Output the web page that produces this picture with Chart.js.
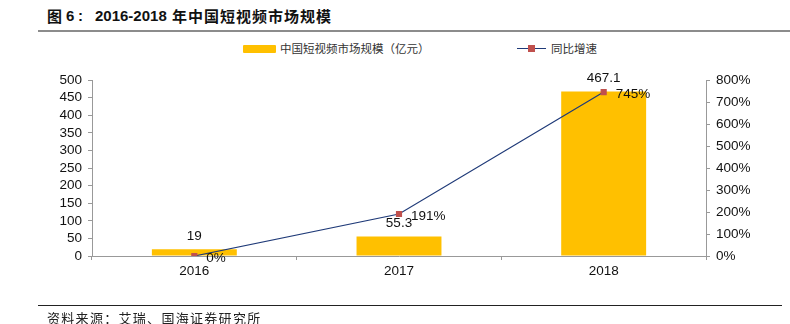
<!DOCTYPE html>
<html>
<head>
<meta charset="utf-8">
<script src="https://cdn.jsdelivr.net/npm/chart.js@4.4.0/dist/chart.umd.min.js"></script>
<style>
  body { margin: 0; background: #fff; }
  #wrap { position: relative; width: 790px; height: 324px; overflow: hidden; }
  #chart { position: absolute; left: 0; top: 0; }
  .title { position: absolute; top: 8px; font: bold 15px "Liberation Sans", Arial, sans-serif; line-height: 16px; color: #111; white-space: nowrap; }
  .title.cn { font-family: "Noto Sans CJK SC", sans-serif; letter-spacing: 1px; }
  .title-line { position: absolute; left: 38px; top: 30px; width: 752px; height: 2px; background: #8c8c8c; }
  .foot-line { position: absolute; left: 38px; top: 305px; width: 744px; height: 1px; background: #222; }
  .foot { position: absolute; left: 47px; top: 311px; font: 13px "Noto Sans CJK SC", sans-serif; line-height: 14px; letter-spacing: 1.3px; color: #222; white-space: nowrap; }
  .leg-text { position: absolute; top: 42px; font: 11.5px "Noto Sans CJK SC", sans-serif; line-height: 13px; color: #333; white-space: nowrap; }
  .leg-bar { position: absolute; left: 243px; top: 45px; width: 33px; height: 8px; background: #FFC000; border-radius: 1px; }
  .leg-line { position: absolute; left: 517px; top: 48px; width: 29px; height: 1px; background: #1F3A78; }
  .leg-mark { position: absolute; left: 528px; top: 45px; width: 7px; height: 7px; background: #C0504D; }
</style>
</head>
<body>
<div id="wrap">
  <div class="title cn" style="left:47px">图</div>
  <div class="title" style="left:66px">6</div>
  <div class="title" style="left:78px">:</div>
  <div class="title" style="left:95px">2016-2018</div>
  <div class="title cn" style="left:172px">年中国短视频市场规模</div>
  <div class="title-line"></div>
  <div class="leg-bar"></div>
  <div class="leg-text" style="left:280px">中国短视频市场规模（亿元）</div>
  <div class="leg-line"></div>
  <div class="leg-mark"></div>
  <div class="leg-text" style="left:551px">同比增速</div>
  <canvas id="chart" width="790" height="324"></canvas>
  <div class="foot-line"></div>
  <div class="foot">资料来源：艾瑞、国海证券研究所</div>
</div>
<script>
const years = ['2016', '2017', '2018'];
const marketSize = [19, 55.3, 467.1];
const growthRate = [0, 191, 745];
const barLabels = ['19', '55.3', '467.1'];
const lineLabels = ['0%', '191%', '745%'];

const tickFont = { family: '"Liberation Sans", Arial, sans-serif', size: 13.5 };

// draw the value labels ourselves (no datalabels plugin offline)
const valueLabels = {
  id: 'valueLabels',
  afterDatasetsDraw(chart) {
    const ctx = chart.ctx;
    ctx.save();
    ctx.font = '13.5px "Liberation Sans", Arial, sans-serif';
    ctx.fillStyle = '#111';
    ctx.textBaseline = 'middle';
    chart.getDatasetMeta(0).data.forEach((bar, i) => {
      ctx.textAlign = 'center';
      ctx.fillText(barLabels[i], bar.x, bar.y - 13);
    });
    chart.getDatasetMeta(1).data.forEach((pt, i) => {
      ctx.textAlign = 'left';
      ctx.fillText(lineLabels[i], pt.x + 12, pt.y + 2);
    });
    ctx.restore();
  }
};

const ctx = document.getElementById('chart').getContext('2d');
new Chart(ctx, {
  type: 'bar',
  data: {
    labels: years,
    datasets: [
      {
        type: 'bar',
        label: '中国短视频市场规模（亿元）',
        data: marketSize,
        backgroundColor: '#FFC000',
        borderWidth: 0,
        categoryPercentage: 1,
        barPercentage: 0.415,
        yAxisID: 'y',
        order: 2
      },
      {
        type: 'line',
        label: '同比增速',
        data: growthRate,
        borderColor: '#1F3A78',
        borderWidth: 1.2,
        pointStyle: 'rect',
        pointRadius: 3.5,
        pointBackgroundColor: '#C0504D',
        pointBorderColor: '#C0504D',
        tension: 0,
        yAxisID: 'y1',
        order: 1
      }
    ]
  },
  options: {
    responsive: false,
    animation: false,
    layout: { padding: { top: 80, bottom: 48, left: 0, right: 0 } },
    plugins: { legend: { display: false }, tooltip: { enabled: false } },
    scales: {
      x: {
        grid: { display: true, drawOnChartArea: false, drawTicks: true, tickLength: 4, color: '#999', offset: true },
        border: { color: '#999' },
        ticks: { color: '#111', font: tickFont, padding: 3 },
        afterFit(s) { s.height = 20; }
      },
      y: {
        position: 'left',
        min: 0, max: 500,
        grid: { drawOnChartArea: false, tickLength: 4, color: '#999' },
        border: { color: '#999' },
        ticks: { stepSize: 50, autoSkip: false, color: '#111', font: tickFont, padding: 6 },
        afterFit(s) { s.width = 92; }
      },
      y1: {
        position: 'right',
        min: 0, max: 800,
        grid: { drawOnChartArea: false, tickLength: 4, color: '#999' },
        border: { color: '#999' },
        ticks: { stepSize: 100, autoSkip: false, color: '#111', font: tickFont, padding: 6, callback: v => v + '%' },
        afterFit(s) { s.width = 84; }
      }
    }
  },
  plugins: [valueLabels]
});
</script>
</body>
</html>
